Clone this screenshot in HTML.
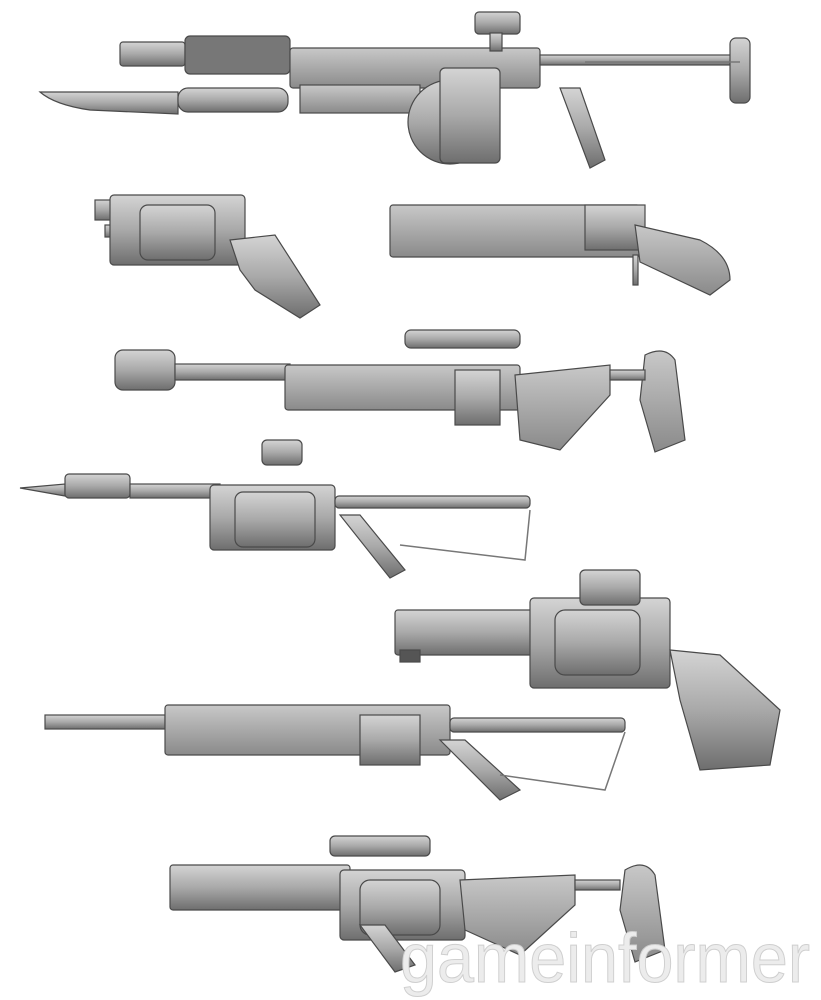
<!DOCTYPE html>
<html><head><meta charset="utf-8"><style>
html,body{margin:0;padding:0;background:#fff;}
svg{display:block;}
</style></head><body>
<svg width="821" height="1000" viewBox="0 0 821 1000" xmlns="http://www.w3.org/2000/svg">
<defs>
<linearGradient id="m" x1="0" y1="0" x2="0" y2="1"><stop offset="0" stop-color="#d4d4d4"/><stop offset="0.5" stop-color="#a9a9a9"/><stop offset="1" stop-color="#6e6e6e"/></linearGradient>
<linearGradient id="w" x1="0" y1="0" x2="0" y2="1"><stop offset="0" stop-color="#c8c8c8"/><stop offset="1" stop-color="#8a8a8a"/></linearGradient>
</defs>
<g fill="url(#m)" stroke="#4a4a4a" stroke-width="1.2">
<path d="M40 92 L178 92 L178 114 L90 110 Q55 105 40 92Z"/>
<rect x="178" y="88" width="110" height="24" rx="10"/>
<rect x="120" y="42" width="65" height="24" rx="3"/>
<rect x="185" y="36" width="105" height="38" rx="5" fill="#777"/>
<rect x="290" y="48" width="250" height="40" rx="3" fill="url(#w)"/>
<rect x="300" y="85" width="120" height="28" fill="url(#w)"/>
<circle cx="450" cy="122" r="42"/>
<rect x="440" y="68" width="60" height="95" rx="5"/>
<rect x="475" y="12" width="45" height="22" rx="4"/>
<rect x="490" y="33" width="12" height="18"/>
<rect x="540" y="55" width="200" height="10"/>
<rect x="730" y="38" width="20" height="65" rx="6"/>
<path d="M560 88 L580 88 L605 160 L590 168 Z"/>
<rect x="95" y="200" width="50" height="20"/>
<rect x="105" y="225" width="45" height="12"/>
<rect x="110" y="195" width="135" height="70" rx="4"/>
<rect x="140" y="205" width="75" height="55" rx="8"/>
<path d="M230 240 L275 235 L320 305 L300 318 L255 290 L240 270Z"/>
<rect x="390" y="205" width="250" height="52" rx="3" fill="url(#w)"/>
<rect x="585" y="205" width="60" height="45"/>
<path d="M635 225 L700 240 Q730 255 730 280 L710 295 L640 262Z" fill="url(#w)"/>
<rect x="633" y="255" width="5" height="30"/>
<rect x="115" y="350" width="60" height="40" rx="8"/>
<rect x="175" y="364" width="115" height="16"/>
<rect x="285" y="365" width="235" height="45" rx="3" fill="url(#w)"/>
<rect x="405" y="330" width="115" height="18" rx="6"/>
<rect x="455" y="370" width="45" height="55"/>
<path d="M515 375 L610 365 L610 395 L560 450 L520 440 Z" fill="url(#w)"/>
<path d="M645 355 Q665 345 675 360 L685 440 L655 452 L640 400Z" fill="url(#w)"/>
<rect x="610" y="370" width="35" height="10"/>
<path d="M20 488 L65 484 L65 496 Z"/>
<rect x="65" y="474" width="65" height="24" rx="4"/>
<rect x="130" y="484" width="90" height="14"/>
<rect x="210" y="485" width="125" height="65" rx="4"/>
<rect x="235" y="492" width="80" height="55" rx="8"/>
<rect x="262" y="440" width="40" height="25" rx="5"/>
<rect x="335" y="496" width="195" height="12" rx="4"/>
<path d="M340 515 L360 515 L405 570 L390 578Z"/>
<rect x="395" y="610" width="140" height="45" rx="3"/>
<rect x="530" y="598" width="140" height="90" rx="4"/>
<rect x="555" y="610" width="85" height="65" rx="10"/>
<rect x="580" y="570" width="60" height="35" rx="5"/>
<path d="M670 650 L720 655 L780 710 L770 765 L700 770 L680 700Z"/>
<rect x="400" y="650" width="20" height="12" fill="#555"/>
<rect x="45" y="715" width="120" height="14"/>
<rect x="165" y="705" width="285" height="50" rx="3" fill="url(#w)"/>
<rect x="360" y="715" width="60" height="50"/>
<rect x="450" y="718" width="175" height="14" rx="4"/>
<path d="M440 740 L465 740 L520 790 L500 800Z"/>
<rect x="170" y="865" width="180" height="45" rx="3"/>
<rect x="340" y="870" width="125" height="70" rx="4"/>
<rect x="360" y="880" width="80" height="55" rx="10"/>
<rect x="330" y="836" width="100" height="20" rx="5"/>
<path d="M460 880 L575 875 L575 905 L520 955 L465 930Z" fill="url(#w)"/>
<rect x="575" y="880" width="45" height="10"/>
<path d="M625 870 Q645 858 655 875 L665 950 L635 962 L620 910Z" fill="url(#w)"/>
<path d="M360 925 L385 925 L415 965 L395 972Z"/>
</g>
<g fill="none" stroke="#777" stroke-width="1.5">
<path d="M585 62 L740 62"/>
<path d="M530 510 L525 560 L400 545"/>
<path d="M625 732 L605 790 L500 775"/>
</g>
<text x="400" y="982" font-family="Liberation Sans, sans-serif" font-size="70" fill="#ececec" stroke="#cfcfcf" stroke-width="1" textLength="410" lengthAdjust="spacingAndGlyphs">gameinformer</text>
</svg>
</body></html>
